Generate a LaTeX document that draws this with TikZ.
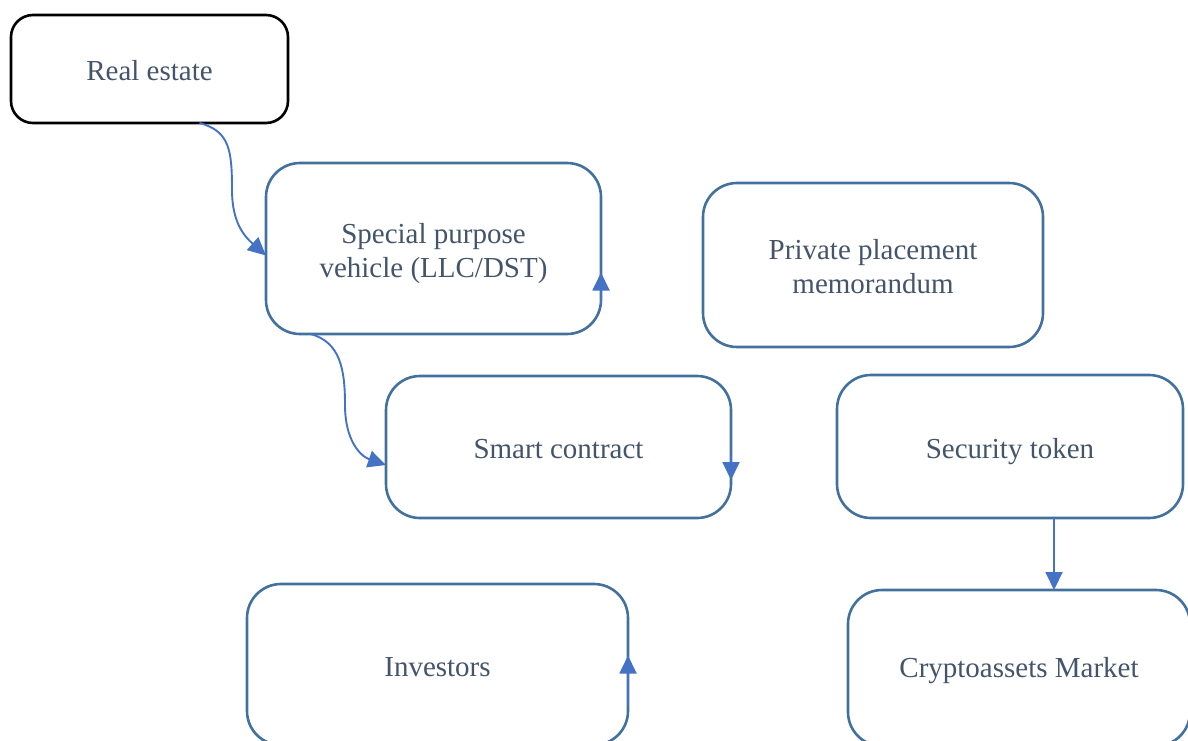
\documentclass[tikz,border=0pt]{standalone}
\usepackage{fontspec}
\setmainfont{Liberation Serif}
\usetikzlibrary{arrows.meta}
\definecolor{boxline}{RGB}{65,113,156}
\definecolor{arrowline}{RGB}{68,114,196}
\definecolor{boxtext}{RGB}{68,84,106}
\begin{document}
\begin{tikzpicture}[x=1pt,y=-1pt,
	box/.style={draw=boxline,line width=2.6pt,rounded corners=34pt,inner sep=0pt,outer sep=0pt,align=center,text=boxtext,font=\fontsize{29}{34}\selectfont},
	lift/.style={execute at begin node={\rule{0pt}{#1}}},
	arr/.style={draw=arrowline,line width=1.9pt,-{Triangle[length=18pt,width=17pt]}}]
	\useasboundingbox (0,0) rectangle (1188,740);
	\clip (0,0) rectangle (1188,740);
	\node[box,lift=24pt,draw=black,rounded corners=22pt,minimum width=277pt,minimum height=108pt] (estate) at (149.5,69) {Real estate};
	\node[box,minimum width=335pt,minimum height=171pt] (spv) at (433.5,248.5) {\rule{0pt}{30pt}Special purpose\\vehicle (LLC/DST)};
	\node[box,minimum width=340pt,minimum height=164pt] (ppm) at (873,265) {\rule{0pt}{24pt}Private placement\\memorandum};
	\node[box,lift=24pt,minimum width=345pt,minimum height=142pt] (smart) at (558.5,447) {Smart contract};
	\node[box,lift=30pt,minimum width=346pt,minimum height=143pt] (token) at (1010,446.5) {Security token};
	\node[box,lift=24pt,minimum width=381pt,minimum height=161pt] (investors) at (437.5,664.5) {Investors};
	\node[box,lift=26pt,minimum width=342pt,minimum height=156pt] (market) at (1019,668) {Cryptoassets Market};
	\draw[arr] ([xshift=50pt]estate.south) .. controls ++(30,8) and (232,150) .. (232,190) .. controls (232,222) and (244,236) .. ([yshift=-7pt]spv.west);
	\draw[arr] ([xshift=-123pt]spv.south) .. controls ++(30,8) and (345,370) .. (345,405) .. controls (345,440) and (360,456) .. ([yshift=-18pt]smart.west);
	\draw[arr] ([yshift=-55pt]spv.east) -- ([yshift=-24pt]spv.east);
	\draw[arr] ([yshift=-8pt]smart.east) -- ([yshift=-33pt]smart.east);
	\draw[arr] ([xshift=44pt]token.south) -- ([xshift=35pt]market.north);
	\draw[arr] ([yshift=-40pt]investors.east) -- ([yshift=9pt]investors.east);
\end{tikzpicture}
\end{document}
